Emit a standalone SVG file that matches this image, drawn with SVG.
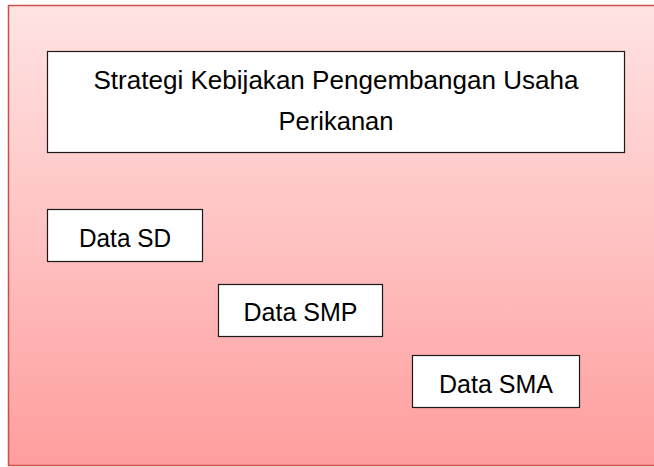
<svg xmlns="http://www.w3.org/2000/svg" width="654" height="467" viewBox="0 0 654 467">
<defs>
<linearGradient id="bg" x1="0" y1="0" x2="0" y2="1">
<stop offset="0" stop-color="#ffe3e3"/>
<stop offset="0.5" stop-color="#ffc2c2"/>
<stop offset="1" stop-color="#ff9d9d"/>
</linearGradient>
<style>
.box{fill:#ffffff;stroke:#1a1a1a;stroke-width:1.2}
.t{font-family:"Liberation Sans",Arial,sans-serif;font-size:25px;fill:#000;text-anchor:middle}
.h{font-size:26.5px}
</style>
</defs>
<rect x="8.5" y="5.5" width="648" height="460" fill="url(#bg)" stroke="#c9504d" stroke-width="1.5"/>
<g id="title">
<rect class="box" x="47.5" y="51.5" width="577" height="101"/>
<text class="t h" x="336" y="89" textLength="485" lengthAdjust="spacingAndGlyphs">Strategi Kebijakan Pengembangan Usaha</text>
<text class="t" x="336" y="130" textLength="115" lengthAdjust="spacingAndGlyphs">Perikanan</text>
</g>
<g id="data-sd">
<rect class="box" x="47.5" y="209.5" width="155" height="52"/>
<text class="t" x="125" y="247" textLength="92" lengthAdjust="spacingAndGlyphs">Data SD</text>
</g>
<g id="data-smp">
<rect class="box" x="218.5" y="284.5" width="164" height="52"/>
<text class="t" x="300.5" y="321">Data SMP</text>
</g>
<g id="data-sma">
<rect class="box" x="412.5" y="355.5" width="167" height="52"/>
<text class="t" x="496" y="393">Data SMA</text>
</g>
<g id="connectors"></g>
</svg>
